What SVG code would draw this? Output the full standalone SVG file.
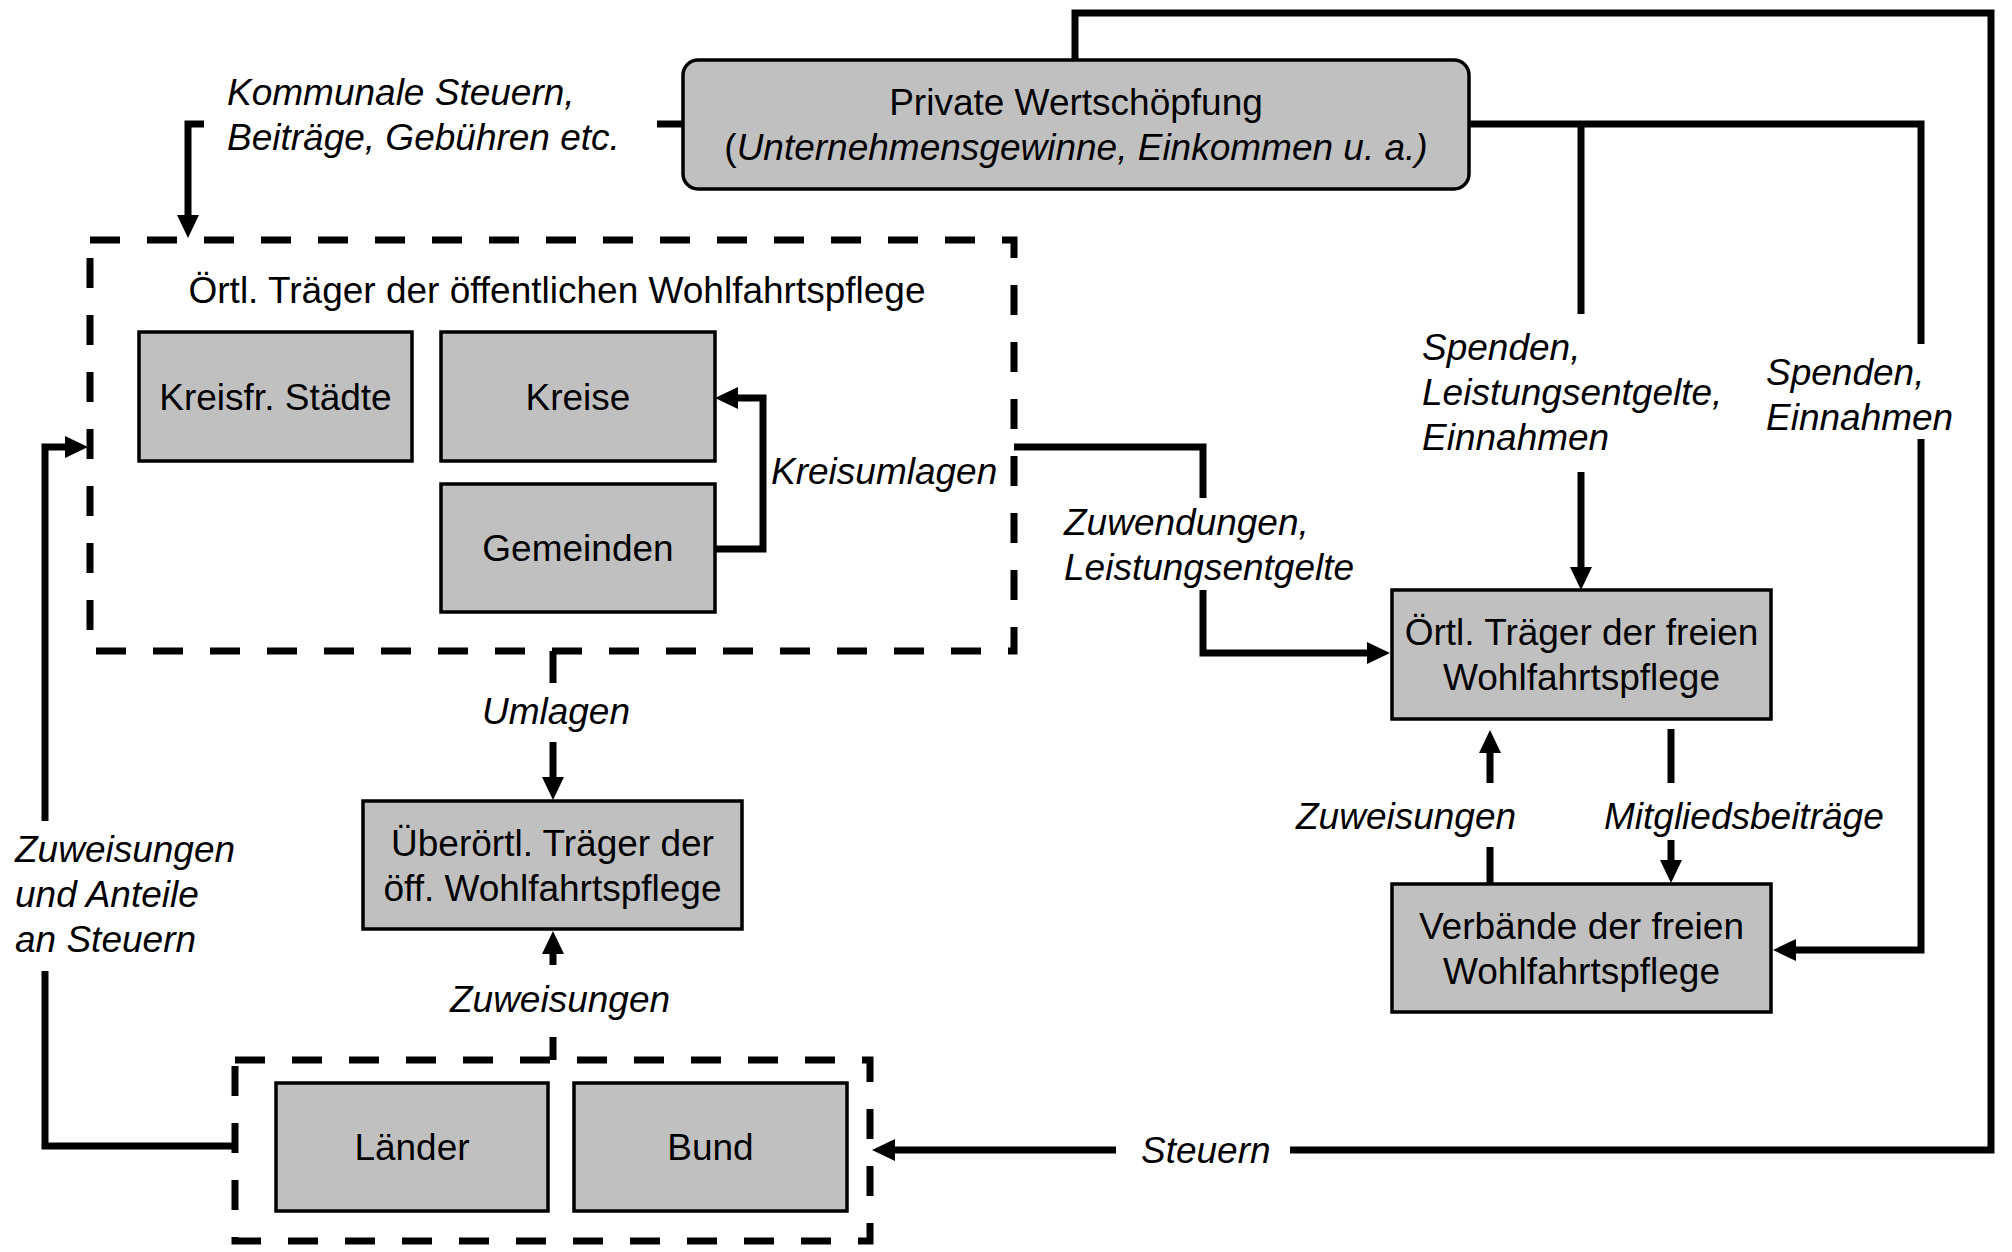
<svg xmlns="http://www.w3.org/2000/svg" width="2012" height="1252" viewBox="0 0 2012 1252">
<style>
.box{fill:#c0c0c0;stroke:#000;stroke-width:3.5}
.dash{fill:none;stroke:#000;stroke-width:7;stroke-dasharray:30 27}
.ln{fill:none;stroke:#000;stroke-width:7}
.arr{marker-end:url(#ah)}
text{font-family:"Liberation Sans",Arial,sans-serif;font-size:37px;fill:#000}
.c{text-anchor:middle}
.i{font-style:italic}
</style>
<defs>
<marker id="ah" viewBox="0 0 23 22" markerWidth="23" markerHeight="22" markerUnits="userSpaceOnUse" refX="12" refY="11" orient="auto">
<path d="M0,0 L23,11 L0,22 z" fill="#000"/>
</marker>
</defs>
<rect width="2012" height="1252" fill="#fff"/>

<g id="connectors">
<path class="ln" d="M683,124 H657"/>
<path class="ln arr" d="M204,124 H188 V227"/>
<path class="ln arr" d="M715,549 H763 V398 H726"/>
<path class="ln" d="M1014,447 H1203 V498"/>
<path class="ln arr" d="M1203,590 V653 H1379"/>
<path class="ln" d="M1469,124 H1921 V344"/>
<path class="ln arr" d="M1921,439 V950 H1784"/>
<path class="ln" d="M1581,124 V314"/>
<path class="ln arr" d="M1581,472 V579"/>
<path class="ln" d="M1490,884 V847"/>
<path class="ln arr" d="M1490,783 V741"/>
<path class="ln" d="M1671,729 V783"/>
<path class="ln arr" d="M1671,840 V872"/>
<path class="ln" d="M553,651 V683"/>
<path class="ln arr" d="M553,742 V789"/>
<path class="ln" d="M553,1060 V1037"/>
<path class="ln arr" d="M553,965 V942"/>
<path class="ln" d="M1075,60 V13 H1991 V1150 H1290"/>
<path class="ln arr" d="M1116,1150 H883"/>
<path class="ln" d="M235,1146 H45 V971"/>
<path class="ln arr" d="M45,821 V447 H77"/>
</g>

<g id="labels">
<text class="i" x="227" y="105">Kommunale Steuern,</text>
<text class="i" x="227" y="150">Beiträge, Gebühren etc.</text>
<text class="i" x="771" y="484">Kreisumlagen</text>
<text class="i" x="1064" y="535">Zuwendungen,</text>
<text class="i" x="1064" y="580">Leistungsentgelte</text>
<text class="i" x="1422" y="360">Spenden,</text>
<text class="i" x="1422" y="405">Leistungsentgelte,</text>
<text class="i" x="1422" y="450">Einnahmen</text>
<text class="i" x="1766" y="385">Spenden,</text>
<text class="i" x="1766" y="430">Einnahmen</text>
<text class="i" x="1296" y="829">Zuweisungen</text>
<text class="i" x="1604" y="829">Mitgliedsbeiträge</text>
<text class="i c" x="556" y="724">Umlagen</text>
<text class="i c" x="560" y="1012">Zuweisungen</text>
<text class="i" x="1141" y="1163">Steuern</text>
<text class="i" x="15" y="862">Zuweisungen</text>
<text class="i" x="15" y="907">und Anteile</text>
<text class="i" x="15" y="952">an Steuern</text>
</g>

<g id="private">
<rect class="box" x="683" y="60" width="786" height="129" rx="15"/>
<text class="c" x="1076" y="115">Private Wertschöpfung</text>
<text class="c" x="1076" y="160">(<tspan class="i">Unternehmensgewinne, Einkommen u. a.)</tspan></text>
</g>

<g id="oertl-oeffentlich">
<rect class="dash" x="90" y="240" width="924" height="411"/>
<text class="c" x="557" y="303">Örtl. Träger der öffentlichen Wohlfahrtspflege</text>
</g>
<g id="kreisfr">
<rect class="box" x="139" y="332" width="273" height="129"/>
<text class="c" x="275.5" y="410">Kreisfr. Städte</text>
</g>
<g id="kreise">
<rect class="box" x="441" y="332" width="274" height="129"/>
<text class="c" x="578" y="410">Kreise</text>
</g>
<g id="gemeinden">
<rect class="box" x="441" y="484" width="274" height="128"/>
<text class="c" x="578" y="561">Gemeinden</text>
</g>

<g id="ueberoertl">
<rect class="box" x="363" y="801" width="379" height="128"/>
<text class="c" x="552.5" y="856">Überörtl. Träger der</text>
<text class="c" x="552.5" y="901">öff. Wohlfahrtspflege</text>
</g>

<g id="laender-bund">
<rect class="dash" x="235" y="1060" width="635" height="181"/>
</g>
<g id="laender">
<rect class="box" x="276" y="1083" width="272" height="128"/>
<text class="c" x="412" y="1160">Länder</text>
</g>
<g id="bund">
<rect class="box" x="574" y="1083" width="273" height="128"/>
<text class="c" x="710.5" y="1160">Bund</text>
</g>

<g id="oertl-frei">
<rect class="box" x="1392" y="590" width="379" height="129"/>
<text class="c" x="1581.5" y="645">Örtl. Träger der freien</text>
<text class="c" x="1581.5" y="690">Wohlfahrtspflege</text>
</g>
<g id="verbaende">
<rect class="box" x="1392" y="884" width="379" height="128"/>
<text class="c" x="1581.5" y="939">Verbände der freien</text>
<text class="c" x="1581.5" y="984">Wohlfahrtspflege</text>
</g>
</svg>
